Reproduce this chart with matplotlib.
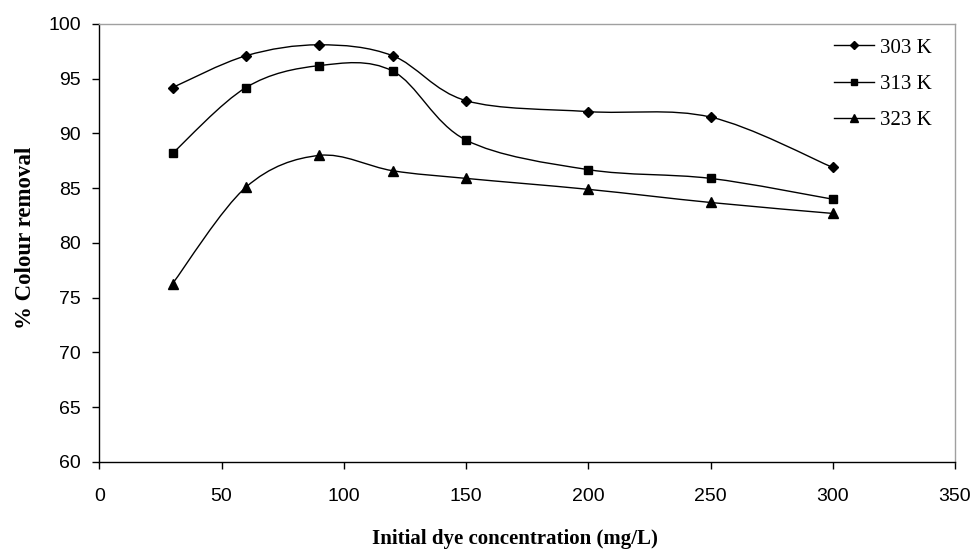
import numpy as np
import matplotlib
matplotlib.use("Agg")
import matplotlib.pyplot as plt
from matplotlib.path import Path
from matplotlib.patches import PathPatch
from matplotlib.lines import Line2D

conc = [30, 60, 90, 120, 150, 200, 250, 300]
s303 = [94.2, 97.1, 98.1, 97.1, 93.0, 92.0, 91.5, 86.9]
s313 = [88.2, 94.2, 96.2, 95.7, 89.4, 86.7, 85.9, 84.0]
s323 = [76.3, 85.1, 88.0, 86.6, 85.9, 84.9, 83.7, 82.7]
labels = ["303 K", "313 K", "323 K"]
markers = ["D", "s", "^"]
msizes = [5.5, 6, 7]
leg_msizes = [4, 5, 5.5]


def smooth_path(ax, x, y):
    # Excel-style smoothed line: cubic Bezier segments, control points from neighbours (display space)
    pts = ax.transData.transform(np.column_stack([x, y]))
    n = len(pts)
    verts = [pts[0]]
    codes = [Path.MOVETO]
    for i in range(n - 1):
        p0 = pts[i - 1] if i > 0 else pts[i]
        p1 = pts[i]
        p2 = pts[i + 1]
        p3 = pts[i + 2] if i + 2 < n else pts[i + 1]
        c1 = p1 + (p2 - p0) / 6.0
        c2 = p2 - (p3 - p1) / 6.0
        verts += [c1, c2, p2]
        codes += [Path.CURVE4] * 3
    inv = ax.transData.inverted()
    return Path(inv.transform(np.array(verts)), codes)


W, H = 976, 553
L, R, T, B = 99.3, 955, 24, 462
fig = plt.figure(figsize=(W / 100, H / 100), dpi=100)
ax = fig.add_axes([L / W, 1 - B / H, (R - L) / W, (B - T) / H])
ax.set_xlim(0, 350)
ax.set_ylim(60, 100)
ax.set_xticks(range(0, 351, 50))
ax.set_yticks(range(60, 101, 5))

handles = []
for ys, m, ms, lms, lab in zip([s303, s313, s323], markers, msizes, leg_msizes, labels):
    path = smooth_path(ax, conc, ys)
    ax.add_patch(PathPatch(path, fill=False, edgecolor="black", lw=1.0, zorder=2))
    ax.plot(conc, ys, linestyle="none", marker=m, ms=ms, color="black", zorder=3)
    handles.append(Line2D([0], [0], color="black", lw=1.0, marker=m, ms=lms, label=lab))

for side in ["top", "right"]:
    ax.spines[side].set_color("#a0a0a0")
    ax.spines[side].set_linewidth(1.0)
for side in ["left", "bottom"]:
    ax.spines[side].set_color("black")
    ax.spines[side].set_linewidth(1.0)

ax.tick_params(direction="out", length=5, width=1, colors="black", labelsize=14)
for t in ax.get_xticklabels() + ax.get_yticklabels():
    t.set_fontfamily("Liberation Sans")
ax.tick_params(axis="x", pad=14)
ax.tick_params(axis="y", pad=8)

ax.set_xlabel("Initial dye concentration (mg/L)", fontfamily="Liberation Serif",
              fontweight="bold", fontsize=15)
ax.xaxis.set_label_coords((515 - L) / (R - L), (B - 529) / (B - T))
ax.set_ylabel("% Colour removal", fontfamily="Liberation Serif",
              fontweight="bold", fontsize=16.5)
ax.yaxis.set_label_coords((36 - L) / (R - L), (B - 238) / (B - T))

leg = ax.legend(handles=handles, loc="upper left", frameon=False,
                prop={"family": "Liberation Serif", "size": 15},
                handlelength=1.92, handletextpad=0.3, labelspacing=0.8,
                borderpad=0, borderaxespad=0,
                bbox_to_anchor=((834 - L) / (R - L), (B - 38) / (B - T)))

fig.savefig("out.png", dpi=100, facecolor="white")
